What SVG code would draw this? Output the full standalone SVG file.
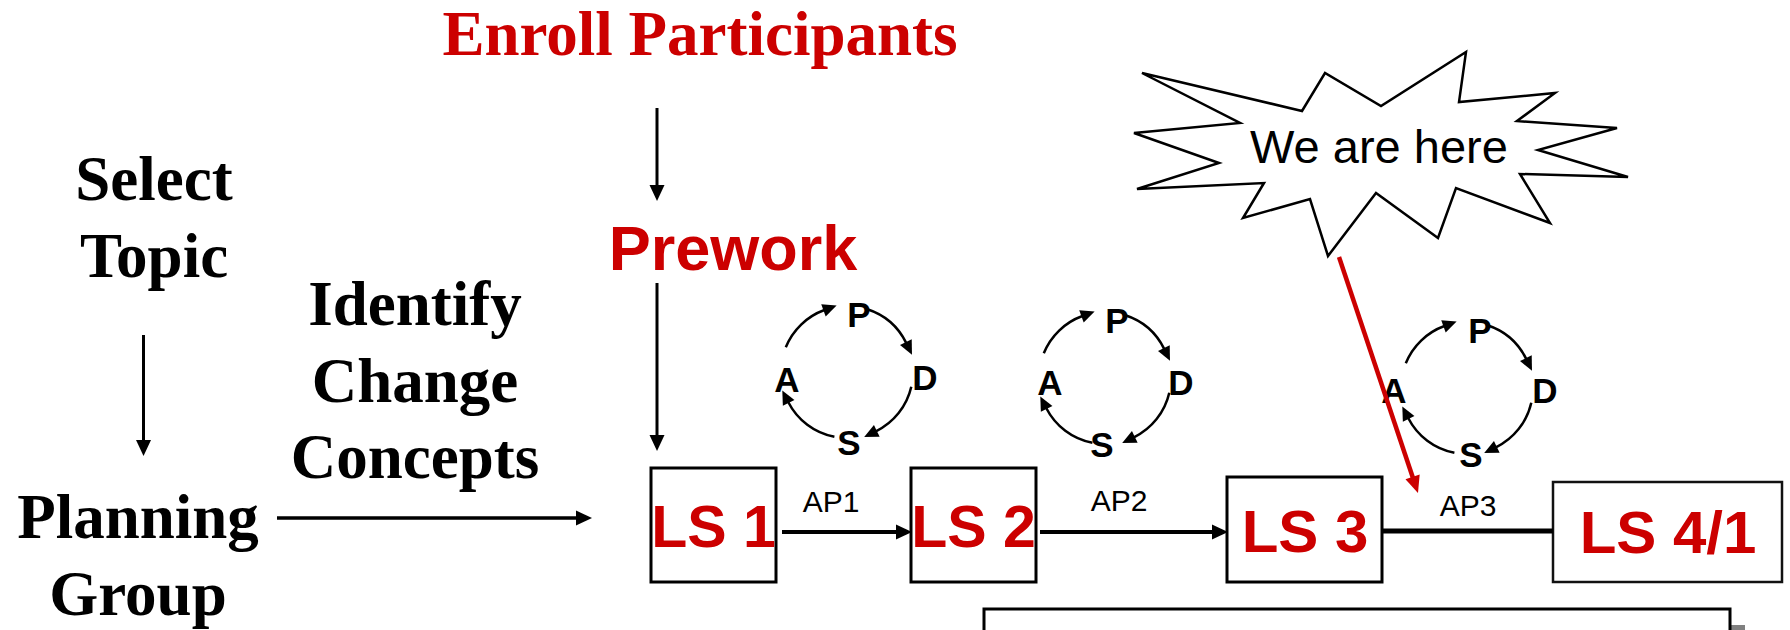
<svg xmlns="http://www.w3.org/2000/svg" xmlns:xlink="http://www.w3.org/1999/xlink" width="1790" height="630" viewBox="0 0 1790 630">
<style>
.serif{font-family:"Liberation Serif","Times New Roman",serif;font-weight:bold;font-size:63px;text-anchor:middle}
.red{fill:#CC0000}
.blk{fill:#000}
.sans{font-family:"Liberation Sans",Arial,sans-serif}
.big{font-weight:bold;text-anchor:middle;fill:#CC0000}
.ap{font-size:30px;text-anchor:middle;fill:#000}
.pd{font-family:"Liberation Sans",Arial,sans-serif;font-weight:bold;font-size:35px;text-anchor:middle;fill:#000}
.box{fill:#fff;stroke:#000;stroke-width:3}
.conn{stroke:#000;fill:none}
.arc{stroke:#000;stroke-width:2.5;fill:none;marker-end:url(#ah)}
</style>
<defs>
<marker id="arr" markerUnits="userSpaceOnUse" markerWidth="16" markerHeight="15" refX="1" refY="7.5" orient="auto" overflow="visible">
<path d="M0,0 L16,7.5 L0,15 z" fill="#000"/>
</marker>
<marker id="arrRed" markerUnits="userSpaceOnUse" markerWidth="17" markerHeight="15" refX="1" refY="7.5" orient="auto" overflow="visible">
<path d="M0,0 L17,7.5 L0,15 z" fill="#CC0000"/>
</marker>
<marker id="ah" markerUnits="userSpaceOnUse" markerWidth="14" markerHeight="13" refX="1" refY="6.5" orient="auto" overflow="visible">
<path d="M0,0 L14,6.5 L0,13 z" fill="#000"/>
</marker>
<g id="pdsa-arcs">
<path class="arc" d="M-61.2,-24.7 A66,66 0 0 1 -22.6,-62.0"/>
<path class="arc" d="M20.4,-62.8 A66,66 0 0 1 59.3,-28.9"/>
<path class="arc" d="M64.3,14.8 A66,66 0 0 1 28.9,59.3"/>
<path class="arc" d="M-12.6,64.8 A66,66 0 0 1 -58.8,30.0"/>
</g>
</defs>
<rect width="1790" height="630" fill="#fff"/>

<g id="enroll"><text class="serif red" x="700" y="55">Enroll Participants</text></g>
<g id="prework"><text class="sans big" x="733" y="270" font-size="63">Prework</text></g>
<g id="select-topic"><text class="serif blk" x="154" y="200">Select</text><text class="serif blk" x="154" y="277">Topic</text></g>
<g id="identify"><text class="serif blk" x="415" y="325">Identify</text><text class="serif blk" x="415" y="402">Change</text><text class="serif blk" x="415" y="478">Concepts</text></g>
<g id="planning"><text class="serif blk" x="138" y="538">Planning</text><text class="serif blk" x="138" y="615">Group</text></g>

<g id="cycle1" transform="translate(847,372)">
<use xlink:href="#pdsa-arcs" href="#pdsa-arcs"/>
<text class="pd" x="12" y="-45">P</text><text class="pd" x="78" y="18">D</text><text class="pd" x="2" y="83">S</text><text class="pd" x="-60" y="20">A</text>
</g>
<g id="cycle2" transform="translate(1105,378)">
<use xlink:href="#pdsa-arcs" href="#pdsa-arcs"/>
<text class="pd" x="12" y="-45">P</text><text class="pd" x="76" y="17">D</text><text class="pd" x="-3" y="79">S</text><text class="pd" x="-55" y="17">A</text>
</g>
<g id="cycle3" transform="translate(1467,388)">
<use xlink:href="#pdsa-arcs" href="#pdsa-arcs"/>
<text class="pd" x="13" y="-45">P</text><text class="pd" x="78" y="15">D</text><text class="pd" x="4" y="79">S</text><text class="pd" x="-73" y="15">A</text>
</g>

<g id="bottom-box">
<rect x="999" y="625" width="746" height="100" fill="#808080"/>
<rect class="box" x="984" y="609" width="746" height="100"/>
</g>

<g id="ls1"><rect class="box" x="651" y="468" width="125" height="114"/><text class="sans big" x="713.5" y="547" font-size="59">LS 1</text></g>
<g id="ls2"><rect class="box" x="911" y="468" width="125" height="114"/><text class="sans big" x="973.5" y="547" font-size="59">LS 2</text></g>
<g id="ls3"><rect class="box" x="1227" y="477" width="155" height="105"/><text class="sans big" x="1305" y="552" font-size="60">LS 3</text></g>
<g id="ls4"><rect class="box" x="1553" y="482" width="229" height="100" style="stroke:#111;stroke-width:2.5"/><text class="sans big" x="1668" y="553" font-size="60">LS 4/1</text></g>

<g id="callout">
<polygon points="1142,73 1302,111 1325,73 1381,106 1466,52 1459,102 1555,93 1517,121 1617,128 1538,150 1628,177 1520,174 1550,223 1456,188 1438,238 1376,193 1328,256 1310,199 1243,218 1264,183 1137,189 1219,163 1134,133 1240,123" fill="#fff" stroke="#000" stroke-width="2.5" stroke-linejoin="miter"/>
<text class="sans" x="1379" y="163" font-size="47" text-anchor="middle" fill="#000">We are here</text>
</g>

<g id="connectors">
<line class="conn" x1="657" y1="108" x2="657" y2="186" stroke-width="3" marker-end="url(#arr)"/>
<line class="conn" x1="657" y1="283" x2="657" y2="436" stroke-width="3" marker-end="url(#arr)"/>
<line class="conn" x1="143.5" y1="335" x2="143.5" y2="441" stroke-width="3" marker-end="url(#arr)"/>
<line class="conn" x1="277" y1="518" x2="577" y2="518" stroke-width="3.5" marker-end="url(#arr)"/>
<line class="conn" x1="782" y1="532" x2="897" y2="532" stroke-width="4" marker-end="url(#arr)"/>
<line class="conn" x1="1040" y1="532" x2="1213" y2="532" stroke-width="4" marker-end="url(#arr)"/>
<line class="conn" x1="1382" y1="531" x2="1553" y2="531" stroke-width="5"/>
<line x1="1339" y1="257" x2="1412.9" y2="477.8" stroke="#CC0000" stroke-width="4.5" marker-end="url(#arrRed)"/>
<text class="sans ap" x="831" y="512">AP1</text>
<text class="sans ap" x="1119" y="511">AP2</text>
<text class="sans ap" x="1468" y="516">AP3</text>
</g>
</svg>
